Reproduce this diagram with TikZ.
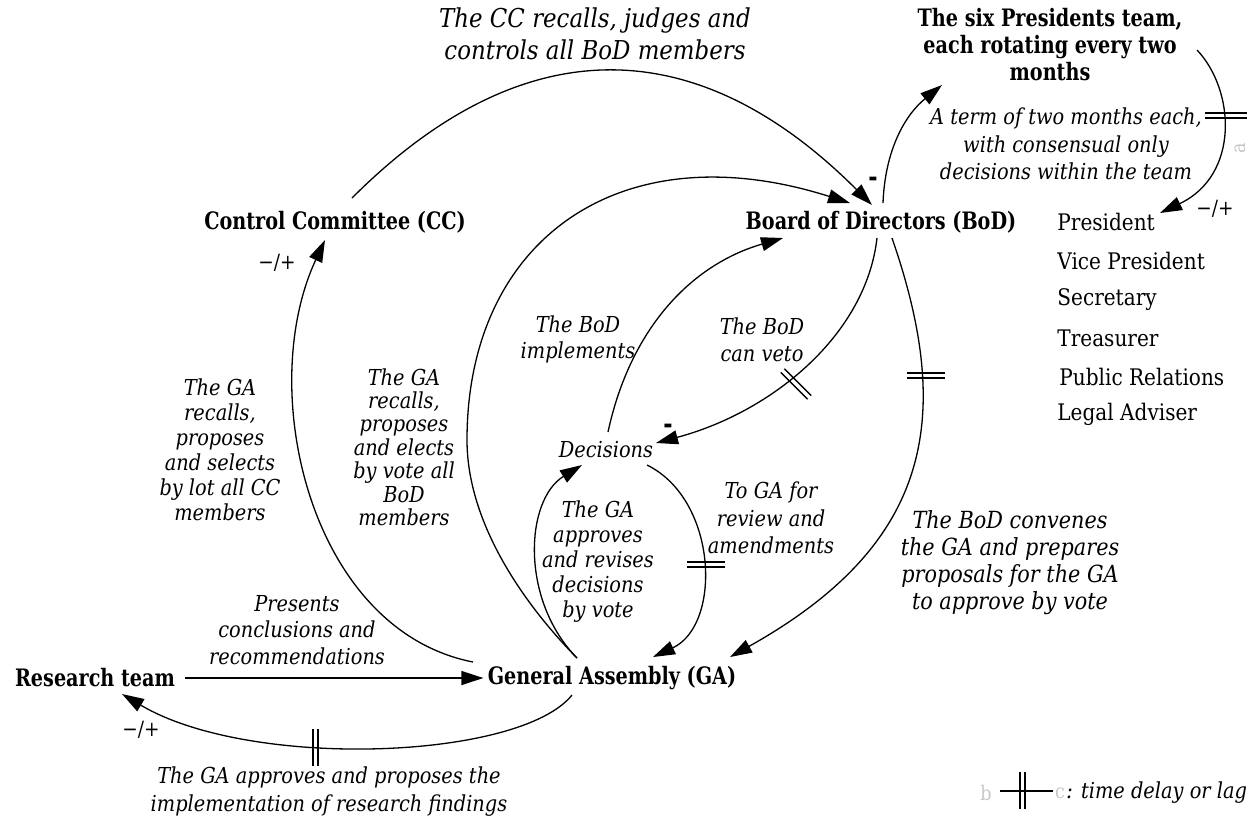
\documentclass[tikz,border=0pt]{standalone}
\usepackage{fontspec}
\setmainfont{DejaVu Serif}
\newfontfamily\bfam{DejaVu Serif}[FakeStretch=0.8]
\newfontfamily\ifam{DejaVu Serif}[FakeStretch=0.88]
\usetikzlibrary{arrows.meta}
\tikzset{
  conn/.style={line width=0.65pt, -{Triangle[length=11pt,width=7pt]}},
  delay/.style={line width=0.65pt},
  bnode/.style={font=\bfam\bfseries\fontsize{12}{13.5}\selectfont, inner sep=1pt, align=center},
  inode/.style={font=\ifam\itshape\fontsize{11}{13}\selectfont, inner sep=1pt, align=center},
  rnode/.style={font=\ifam\fontsize{11.4}{14}\selectfont, inner sep=0pt, anchor=west},
  sign/.style={font=\ifam\fontsize{10.5}{12}\selectfont, inner sep=0pt},
  bsign/.style={font=\bfam\bfseries\fontsize{14}{14}\selectfont, inner sep=0pt},
  faint/.style={text=black!22, font=\ifam\fontsize{10}{12}\selectfont, inner sep=0pt}
}
\begin{document}
\begin{tikzpicture}[x=0.5pt,y=-0.5pt]
\useasboundingbox (0,0) rectangle (1253,821);

% main nodes
\node[bnode] (cc)  at (335,222) {Control Committee (CC)};
\node[bnode] (bod) at (881,222) {Board of Directors (BoD)};
\node[bnode] (pres) at (1050,45) {The six Presidents team,\\each rotating every two\\months};
\node[bnode] (ga)  at (612,678) {General Assembly (GA)};
\node[bnode] (rt)  at (95,678) {Research team};
\node[inode] (dec) at (606,450) {Decisions};

% roles
\node[rnode] (r1) at (1057,222) {President};
\node[rnode] (r2) at (1057,261) {Vice President};
\node[rnode] (r3) at (1057,300) {Secretary};
\node[rnode] (r4) at (1057,338) {Treasurer};
\node[rnode] (r5) at (1059,377) {Public Relations};
\node[rnode] (r6) at (1057,414) {Legal Adviser};

% labels
\node[inode, font=\ifam\itshape\fontsize{13}{16}\selectfont] (lcc) at (595,34) {The CC recalls, judges and\\controls all BoD members};
\node[inode, font=\ifam\itshape\fontsize{11}{13.75}\selectfont] (lterm) at (1066,144) {A term of two months each,\\with consensual only\\decisions within the team};
\node[inode, font=\ifam\itshape\fontsize{11}{12.5}\selectfont] (lgacc) at (220,450) {The GA\\recalls,\\proposes\\and selects\\by lot all CC\\members};
\node[inode, font=\ifam\itshape\fontsize{11}{11.7}\selectfont] (lgabod) at (404,447) {The GA\\recalls,\\proposes\\and elects\\by vote all\\BoD\\members};
\node[inode, font=\ifam\itshape\fontsize{11}{13}\selectfont] (limpl) at (578,339) {The BoD\\implements};
\node[inode, font=\ifam\itshape\fontsize{11}{13.5}\selectfont] (lveto) at (762,340) {The BoD\\can veto};
\node[inode, font=\ifam\itshape\fontsize{11}{12.5}\selectfont] (lapp) at (598,562) {The GA\\approves\\and revises\\decisions\\by vote};
\node[inode, font=\ifam\itshape\fontsize{11}{13.75}\selectfont] (lrev) at (771,518) {To GA for\\review and\\amendments};
\node[inode, font=\ifam\itshape\fontsize{11.8}{13.5}\selectfont] (lconv) at (1010,563) {The BoD convenes\\the GA and prepares\\proposals for the GA\\to approve by vote};
\node[inode, font=\ifam\itshape\fontsize{11}{13.25}\selectfont] (lpres) at (297,630) {Presents\\conclusions and\\recommendations};
\node[inode, font=\ifam\itshape\fontsize{11}{14}\selectfont] (lres) at (329,792) {The GA approves and proposes the\\implementation of research findings};

% polarity signs
\node[sign] (s1) at (277,263) {−/+};
\node[sign] (s2) at (1215,209) {−/+};
\node[sign] (s3) at (141,730) {−/+};
\node[bsign] (m1) at (873,182) {-};
\node[bsign] (m2) at (668,429) {-};

% connector end points
\coordinate (ccA) at (352,198);  \coordinate (bodA) at (872,205);
\coordinate (gaA) at (577,658);  \coordinate (bodB) at (850,203);
\coordinate (decA) at (608,432); \coordinate (bodC) at (783,238);
\coordinate (bodD) at (877,238); \coordinate (decB) at (656,443);
\coordinate (bodE) at (892,238); \coordinate (gaB) at (730,657);
\coordinate (bodF) at (883,203); \coordinate (presA) at (942,85);
\coordinate (presB) at (1197,50); \coordinate (r1A) at (1160,213);
\coordinate (gaC) at (473,662);  \coordinate (ccB) at (325,240);
\coordinate (decC) at (582,465);
\coordinate (decD) at (647,465); \coordinate (gaD) at (653,657);
\coordinate (gaE) at (572,695);  \coordinate (rtA) at (122,694);

% connectors
\draw[conn] (ccA) .. controls (525,25) and (699,32) .. (bodA);
\draw[conn] (gaA) .. controls (520,600) and (467,520) .. (467,440) .. controls (467,240) and (620,130) .. (bodB);
\draw[conn] (decA) .. controls (630,330) and (690,265) .. (bodC);
\draw[conn] (bodD) .. controls (866,335) and (772,412) .. (decB);
\draw[conn] (bodE) .. controls (955,420) and (930,545) .. (gaB);
\draw[conn] (bodF) .. controls (885,150) and (905,115) .. (presA);
\draw[conn] (presB) .. controls (1235,90) and (1240,175) .. (r1A);
\draw[conn] (gaC) .. controls (310,630) and (255,390) .. (ccB);
\draw[conn] (gaA) .. controls (520,600) and (525,500) .. (decC);
\draw[conn] (decD) .. controls (718,500) and (722,625) .. (gaD);
\draw[conn] (gaE) .. controls (520,760) and (250,770) .. (rtA);
\draw[conn, shorten <=4pt, shorten >=1pt] (rt.east) -- (ga.west);

% delay marks
\draw[delay] (313,729) -- (313,766) (318,729) -- (318,766);
\draw[delay] (907,373) -- (945,373) (907,378) -- (945,378);
\draw[delay] (687,562) -- (725,562) (687,567) -- (725,567);
\draw[delay] (780.8,372.4) -- (807.6,399.2) (784.4,368.8) -- (811.2,395.6);
\draw[delay] (1205,113) -- (1247,113) (1205,118) -- (1247,118);

% legend
\node[faint] (fb) at (986,793) {b};
\node[faint] (fc) at (1060,793) {c};
\node[inode, anchor=west, inner sep=0pt] (leg) at (1066,793) {: time delay or lag};
\coordinate (legA) at (1000,791); \coordinate (legB) at (1053,791);
\draw[delay] (legA) -- (legB);
\draw[delay] (1020,772) -- (1020,809) (1025,772) -- (1025,809);
\node[faint, rotate=90] (fa) at (1240,148) {a};
\end{tikzpicture}
\end{document}
